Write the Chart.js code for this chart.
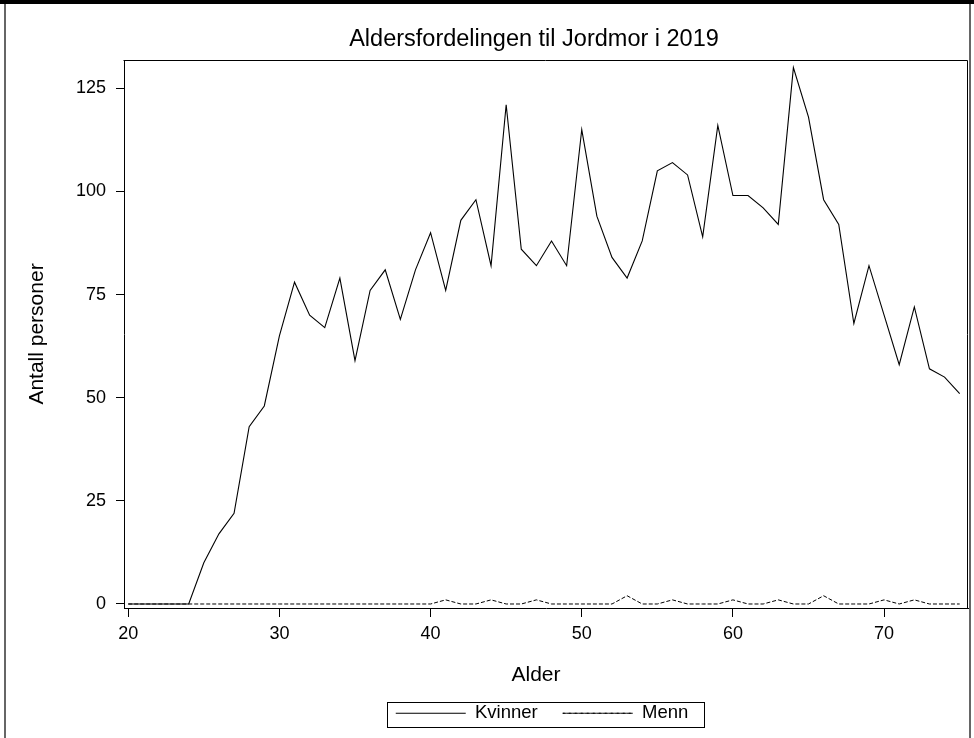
<!DOCTYPE html>
<html>
<head>
<meta charset="utf-8">
<script src="https://cdn.jsdelivr.net/npm/chart.js@4/dist/chart.umd.min.js"></script>
<style>
  html, body { margin: 0; padding: 0; background: #fff; }
  #wrap { width: 974px; height: 738px; position: relative; }
</style>
</head>
<body>
<div id="wrap"><canvas id="c" width="974" height="738"></canvas></div>
<script>
// ---- data ----
const ages = [20,21,22,23,24,25,26,27,28,29,30,31,32,33,34,35,36,37,38,39,40,41,42,43,44,45,46,47,48,49,50,51,52,53,54,55,56,57,58,59,60,61,62,63,64,65,66,67,68,69,70,71,72,73,74,75];
const kvinner = [0,0,0,0,0,10,17,22,43,48,65,78,70,67,79,59,76,81,69,81,90,76,93,98,82,121,86,82,88,82,115,94,84,79,88,105,107,104,89,116,99,99,96,92,130,118,98,92,68,82,70,58,72,57,55,51];
const menn = [0,0,0,0,0,0,0,0,0,0,0,0,0,0,0,0,0,0,0,0,0,1,0,0,1,0,0,1,0,0,0,0,0,2,0,0,1,0,0,0,1,0,0,1,0,0,2,0,0,0,1,0,1,0,0,0];
const xTicks = [20,30,40,50,60,70];
const yTicks = [0,25,50,75,100,125];
const seriesNames = ['Kvinner','Menn'];
const titleText = 'Aldersfordelingen til Jordmor i 2019';
const xTitle = 'Alder';
const yTitle = 'Antall personer';

const FONT = "'Liberation Sans', Arial, sans-serif";

const framePlugin = {
  id: 'frame',
  afterLayout(chart) {
    const tb = chart.titleBlock;
    if (tb) { tb.left += 50; tb.right += 50; }
    const lg = chart.legend;
    if (lg) {
      const dy = 679 - lg.top;
      lg.left += 58; lg.right += 58;
      lg.top += dy; lg.bottom += dy;
    }
  },
  beforeDraw(chart) {
    const ctx = chart.ctx;
    ctx.save();
    ctx.fillStyle = '#fff';
    ctx.fillRect(0, 0, chart.width, chart.height);
    ctx.restore();
    // x-axis title in the reference sits ~10px left of the plot centre
    const sx = chart.scales.x;
    if (sx && !sx._patchedTitle) {
      const orig = sx.drawTitle;
      sx.drawTitle = function() {
        const l = this.left;
        this.left = l - 20;
        orig.call(this);
        this.left = l;
      };
      sx._patchedTitle = true;
    }
  },
  afterDraw(chart) {
    const ctx = chart.ctx;
    const a = chart.chartArea;
    ctx.save();
    ctx.fillStyle = '#000';
    ctx.fillRect(0, 0, chart.width, 4);
    ctx.strokeStyle = '#666';
    ctx.lineWidth = 2;
    ctx.beginPath();
    ctx.moveTo(5, 4); ctx.lineTo(5, chart.height);
    ctx.moveTo(970, 4); ctx.lineTo(970, chart.height);
    ctx.stroke();
    ctx.strokeStyle = '#000';
    ctx.lineWidth = 1;
    ctx.beginPath();
    ctx.moveTo(Math.round(a.left) - 0.5, Math.round(a.top) + 0.5);
    ctx.lineTo(Math.round(a.right) - 0.5, Math.round(a.top) + 0.5);
    ctx.lineTo(Math.round(a.right) - 0.5, Math.round(a.bottom) + 0.5);
    ctx.stroke();
    const lg = chart.legend;
    if (lg && lg.legendHitBoxes && lg.legendHitBoxes.length) {
      const hb = lg.legendHitBoxes;
      const last = hb[hb.length - 1];
      const l = hb[0].left - 9, r = last.left + last.width + 15;
      const t = hb[0].top - 2, b = hb[0].top + hb[0].height + 4;
      ctx.strokeStyle = '#000';
      ctx.lineWidth = 1;
      ctx.strokeRect(Math.round(l) + 0.5, Math.round(t) + 0.5, Math.round(r - l), Math.round(b - t));
    }
    ctx.restore();
  }
};

const ctx = document.getElementById('c').getContext('2d');
new Chart(ctx, {
  type: 'line',
  data: {
    datasets: [
      {
        label: seriesNames[0],
        data: ages.map((a, i) => ({x: a, y: kvinner[i]})),
        borderColor: '#000',
        backgroundColor: 'rgba(0,0,0,0)',
        borderWidth: 1.1,
        pointRadius: 0,
        tension: 0
      },
      {
        label: seriesNames[1],
        data: ages.map((a, i) => ({x: a, y: menn[i]})),
        borderColor: '#000',
        backgroundColor: 'rgba(0,0,0,0)',
        borderWidth: 1,
        borderDash: [4, 2],
        pointRadius: 0,
        tension: 0
      }
    ]
  },
  options: {
    responsive: false,
    animation: false,
    devicePixelRatio: 1,
    layout: { padding: { top: 4, left: 0, right: 6, bottom: 0 } },
    plugins: {
      title: {
        display: true,
        text: titleText,
        color: '#000',
        font: { family: FONT, size: 23.5, weight: 'normal' },
        padding: { top: 21.4, bottom: 6.4 }
      },
      legend: {
        display: true,
        position: 'bottom',
        labels: {
          color: '#000',
          font: { family: FONT, size: 18.5 },
          boxWidth: 70,
          boxHeight: 0,
          padding: 25
        }
      },
      tooltip: { enabled: false }
    },
    scales: {
      x: {
        type: 'linear',
        min: 19.72,
        max: 75.55,
        afterBuildTicks(scale) { scale.ticks = xTicks.map(v => ({value: v})); },
        afterFit(scale) { scale.height = 76.5; },
        ticks: {
          color: '#000',
          font: { family: FONT, size: 18 },
          padding: 6,
          maxRotation: 0,
          autoSkip: false
        },
        grid: { display: true, drawOnChartArea: false, drawTicks: true, tickLength: 9, color: '#000', lineWidth: 1 },
        border: { display: true, color: '#000', width: 1 },
        title: {
          display: true,
          text: xTitle,
          color: '#000',
          font: { family: FONT, size: 21 },
          padding: { top: 4, bottom: -3 }
        }
      },
      y: {
        type: 'linear',
        min: -0.97,
        max: 131.86,
        afterBuildTicks(scale) { scale.ticks = yTicks.map(v => ({value: v})); },
        afterFit(scale) { scale.width = 124; },
        ticks: {
          color: '#000',
          font: { family: FONT, size: 18 },
          padding: 10
        },
        grid: { display: true, drawOnChartArea: false, drawTicks: true, tickLength: 8, color: '#000', lineWidth: 1 },
        border: { display: true, color: '#000', width: 1 },
        title: {
          display: true,
          text: yTitle,
          color: '#000',
          font: { family: FONT, size: 21 },
          padding: { top: 24.4, bottom: 4 }
        }
      }
    }
  },
  plugins: [framePlugin]
});
</script>
</body>
</html>
